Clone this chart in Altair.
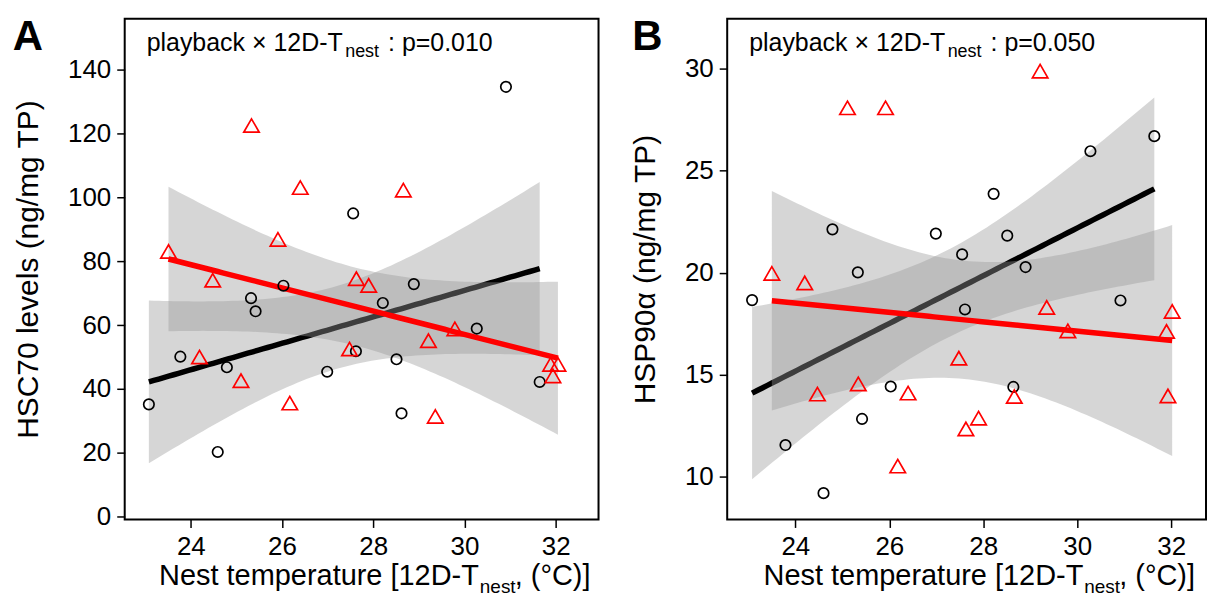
import altair as alt
import numpy as np
import pandas as pd

# ---------------- data ----------------
# Panel A: HSC70 levels (ng/mg TP)
A_ctrl_x = [23.08, 23.77, 24.59, 24.79, 25.32, 25.42, 26.03, 26.99, 27.56, 27.62,
            28.21, 28.51, 28.62, 28.89, 30.27, 30.91, 31.65]
A_ctrl_y = [35.2, 50.1, 20.3, 46.8, 68.4, 64.3, 72.3, 45.4, 94.9, 51.8,
            66.9, 49.3, 32.4, 72.8, 58.9, 134.5, 42.2]
A_play_x = [23.51, 24.19, 24.48, 25.10, 25.33, 25.91, 26.17, 26.40, 27.48, 27.63,
            27.90, 28.66, 29.21, 29.36, 29.79, 31.89, 31.94, 32.05]
A_play_y = [83.0, 50.0, 74.0, 42.6, 122.4, 86.8, 35.6, 103.0, 52.5, 74.5,
            72.4, 102.2, 55.1, 31.4, 58.8, 47.7, 44.1, 47.7]

# Panel B: HSP90alpha (ng/mg TP)
B_ctrl_x = [23.08, 23.79, 24.60, 24.79, 25.33, 25.42, 26.03, 26.99, 27.55, 27.61,
            28.22, 28.51, 28.64, 28.90, 30.28, 30.92, 31.64]
B_ctrl_y = [18.66, 11.55, 9.19, 22.13, 20.02, 12.83, 14.42, 21.92, 20.90, 18.20,
            23.87, 21.82, 14.40, 20.28, 25.96, 18.64, 26.70]
B_play_x = [23.50, 24.20, 24.47, 25.11, 25.34, 25.92, 26.18, 26.40, 27.48, 27.63,
            27.90, 28.66, 29.21, 29.35, 29.80, 31.90, 31.93, 32.02]
B_play_y = [19.97, 19.50, 14.05, 28.09, 14.55, 28.09, 10.52, 14.10, 15.81, 12.34,
            12.87, 13.93, 29.89, 18.30, 17.15, 17.12, 13.96, 18.10]

X_TICKS = [24, 26, 28, 30, 32]
A_Y_TICKS = [0, 20, 40, 60, 80, 100, 120, 140]
B_Y_TICKS = [10, 15, 20, 25, 30]

# Student t 0.975 quantiles for the 95% confidence bands
T975 = {15: 2.131, 16: 2.120}

FONT = "Liberation Sans"


def fit_band(x, y, n_grid=80):
    x = np.asarray(x, float)
    y = np.asarray(y, float)
    n = len(x)
    b, a = np.polyfit(x, y, 1)
    xm = x.mean()
    sxx = ((x - xm) ** 2).sum()
    s = np.sqrt(((y - (a + b * x)) ** 2).sum() / (n - 2))
    g = np.linspace(x.min(), x.max(), n_grid)
    fit = a + b * g
    se = s * np.sqrt(1.0 / n + (g - xm) ** 2 / sxx)
    t = T975[n - 2]
    return pd.DataFrame({"x": g, "fit": fit, "lo": fit - t * se, "hi": fit + t * se})


def txt(s, x, y, size, align="left", weight="normal", baseline="alphabetic"):
    return alt.Chart(pd.DataFrame({"t": [s]})).mark_text(
        align=align, baseline=baseline, font=FONT, fontSize=size,
        fontWeight=weight, color="black"
    ).encode(x=alt.value(x), y=alt.value(y), text="t:N")


def panel(cx, cy, px, py, xdom, ydom, yticks, ytitle, W, H, letter, letter_x,
          ptext, xt):
    xs = alt.Scale(domain=xdom, nice=False, zero=False)
    ys = alt.Scale(domain=ydom, nice=False, zero=False)
    xax = alt.Axis(values=X_TICKS, title=None)
    yax = alt.Axis(values=yticks, title=ytitle)

    bc = fit_band(cx, cy)
    bp = fit_band(px, py)

    def ribbon(df):
        return alt.Chart(df).mark_area(color="#999999", opacity=0.4).encode(
            x=alt.X("x:Q", scale=xs, axis=xax),
            y=alt.Y("lo:Q", scale=ys, axis=yax),
            y2="hi:Q",
        )

    def line(df, col):
        return alt.Chart(df).mark_line(color=col, strokeWidth=5.5).encode(
            x=alt.X("x:Q", scale=xs, axis=xax),
            y=alt.Y("fit:Q", scale=ys, axis=yax),
        )

    pc = alt.Chart(pd.DataFrame({"x": cx, "y": cy})).mark_point(
        shape="circle", size=110, color="black", strokeWidth=1.7, filled=False, opacity=1
    ).encode(x=alt.X("x:Q", scale=xs, axis=xax), y=alt.Y("y:Q", scale=ys, axis=yax))
    pp = alt.Chart(pd.DataFrame({"x": px, "y": py})).mark_point(
        shape="triangle-up", size=240, color="#FF0000", strokeWidth=1.7, filled=False, opacity=1
    ).encode(x=alt.X("x:Q", scale=xs, axis=xax), y=alt.Y("y:Q", scale=ys, axis=yax))

    layers = [
        ribbon(bc), line(bc, "black"), ribbon(bp), line(bp, "#FF0000"), pc, pp,
        # annotation
        txt("playback \u00d7 12D-T", 22, 32, 25),
        txt("nest", 221, 38, 18),
        txt(": p=" + ptext, 264, 32, 25),
        # panel letter
        txt(letter, letter_x, 31, 42, align="center", weight="bold"),
        # x title
        txt("Nest temperature [12D-T", xt, H + 66, 29, align="right"),
        txt("nest", xt + 1, H + 74, 19),
        txt(", (\u00b0C)]", xt + 36, H + 66, 29),
    ]
    return alt.layer(*layers).properties(width=W, height=H)


pA = panel(A_ctrl_x, A_ctrl_y, A_play_x, A_play_y, [22.55, 32.94], [-0.8, 155.8],
           A_Y_TICKS, "HSC70 levels (ng/mg TP)", 475, 502, "A", -97, "0.010", 355)
pB = panel(B_ctrl_x, B_ctrl_y, B_play_x, B_play_y, [22.55, 32.74], [7.9, 32.46],
           B_Y_TICKS, "HSP90\u03b1 (ng/mg TP)", 480, 502, "B", -80, "0.050", 357)

chart = alt.hconcat(pA, pB, spacing=129, bounds="flush").properties(
    padding={"left": 3, "top": 6, "right": 0, "bottom": 0}
).configure_view(
    stroke="black", strokeWidth=2
).configure_axis(
    domain=False, grid=False, tickColor="black", tickWidth=1.5, tickSize=8,
    labelFont=FONT, labelFontSize=26, labelColor="black", labelPadding=6,
    titleFont=FONT, titleFontSize=30, titleFontWeight="normal", titleColor="black",
    labelOverlap=False, labelFlush=False
).configure_axisLeft(titlePadding=24)

chart.save("out.html", embed_options={"renderer": "svg", "actions": False})
